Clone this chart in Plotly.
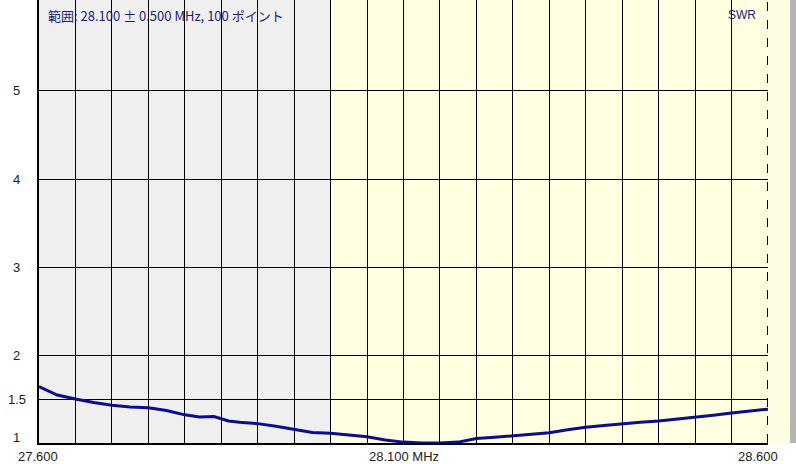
import plotly.graph_objects as go

# ---- data ----
freq_mhz = [27.600, 27.625, 27.650, 27.675, 27.700, 27.725, 27.750, 27.775, 27.800,
            27.820, 27.840, 27.860, 27.875, 27.900, 27.925, 27.950, 27.975, 28.000,
            28.025, 28.050, 28.075, 28.100, 28.125, 28.150, 28.175, 28.200, 28.225,
            28.250, 28.275, 28.300, 28.325, 28.350, 28.375, 28.400, 28.425, 28.450,
            28.475, 28.500, 28.525, 28.550, 28.575, 28.600]
swr = [1.64, 1.545, 1.50, 1.46, 1.43, 1.41, 1.40, 1.37, 1.32,
       1.295, 1.30, 1.25, 1.235, 1.22, 1.19, 1.155, 1.12, 1.11,
       1.09, 1.07, 1.035, 1.01, 1.00, 1.00, 1.01, 1.05, 1.065,
       1.08, 1.10, 1.117, 1.15, 1.18, 1.20, 1.22, 1.235, 1.25,
       1.27, 1.29, 1.315, 1.34, 1.36, 1.385]

y_tick_vals = [1, 1.5, 2, 3, 4, 5]
y_tick_text = ["1", "1.5", "2", "3", "4", "5"]
x_tick_vals = [27.6, 28.1, 28.6]
x_tick_text = ["27.600", "28.100 MHz", "28.600"]
band_start = 28.0
title_text = "範囲: 28.100 ± 0.500 MHz, 100 ポイント"
series_name = "SWR"

X0, X1 = 27.6, 28.6
Y0, Y1 = 1.0, 6.034

grid_x = [round(27.6 + 0.05 * i, 3) for i in range(1, 20)]
grid_y = [1.5, 2, 3, 4, 5]

fig = go.Figure()
fig.add_trace(go.Scatter(x=freq_mhz, y=swr, mode="lines",
                         line=dict(color="#0c0c8e", width=3),
                         hoverinfo="skip", showlegend=False))

shapes = [
    dict(type="rect", xref="x", yref="paper", x0=X0, x1=band_start, y0=0, y1=1,
         fillcolor="#efefef", line=dict(width=0), layer="below"),
    dict(type="rect", xref="paper", yref="paper", x0=1, x1=1.0302, y0=0, y1=1,
         fillcolor="#fdfde4", line=dict(width=0), layer="below"),
    dict(type="rect", xref="paper", yref="paper", x0=1.0302, x1=1.04, y0=0, y1=1.0,
         fillcolor="#b4b4b4", line=dict(width=0), layer="below"),
    dict(type="line", xref="x", yref="paper", x0=X1, x1=X1, y0=0, y1=1,
         line=dict(color="black", width=2, dash="dash"), layer="above"),
]
fig.update_layout(shapes=shapes)

annotations = []
for v, t in zip(y_tick_vals, y_tick_text):
    annotations.append(dict(x=-0.0302, xref="paper", y=v, yref="y", text=t,
                            showarrow=False, xanchor="center",
                            yanchor="bottom" if v == 1 else "middle",
                            yshift=-4 if v == 1 else 0,
                            font=dict(family="Liberation Sans", size=13, color="#222222")))
x_shift = [-1, 0, -10]
for v, t, s in zip(x_tick_vals, x_tick_text, x_shift):
    annotations.append(dict(x=v, xref="x", y=0, yref="paper", text=t,
                            showarrow=False, xanchor="center", yanchor="top", xshift=s, yshift=-4,
                            font=dict(family="Liberation Sans", size=13, color="#222222")))
annotations.append(dict(x=27.6, xref="x", y=1, yref="paper", text=title_text,
                        showarrow=False, xanchor="left", yanchor="top", xshift=7, yshift=-4,
                        font=dict(family="Noto Sans CJK JP, Liberation Sans", size=13,
                                  color="#1c1c7a")))
annotations.append(dict(x=X1, xref="x", y=1, yref="paper", text=series_name,
                        showarrow=False, xanchor="right", yanchor="top", xshift=-10, yshift=-6,
                        font=dict(family="Liberation Sans", size=12, color="#1c1c7a")))
fig.update_layout(annotations=annotations)

fig.update_layout(
    width=796, height=464,
    margin=dict(l=39, r=28, t=0, b=21, pad=0),
    paper_bgcolor="white",
    plot_bgcolor="#ffffe1",
    showlegend=False,
    xaxis=dict(range=[X0, X1], tickmode="array", tickvals=grid_x, showticklabels=False,
               ticks="", showgrid=True, gridcolor="black", gridwidth=1, zeroline=False,
               showline=True, linecolor="black", linewidth=1.5, mirror=False, fixedrange=True),
    yaxis=dict(range=[Y0, Y1], tickmode="array", tickvals=grid_y, showticklabels=False,
               ticks="", showgrid=True, gridcolor="black", gridwidth=1, zeroline=False,
               showline=True, linecolor="black", linewidth=1.5, fixedrange=True),
)

fig.write_html("out.html", config={"displayModeBar": False},
               post_script="document.body.style.margin='0';document.body.style.overflow='hidden';")
